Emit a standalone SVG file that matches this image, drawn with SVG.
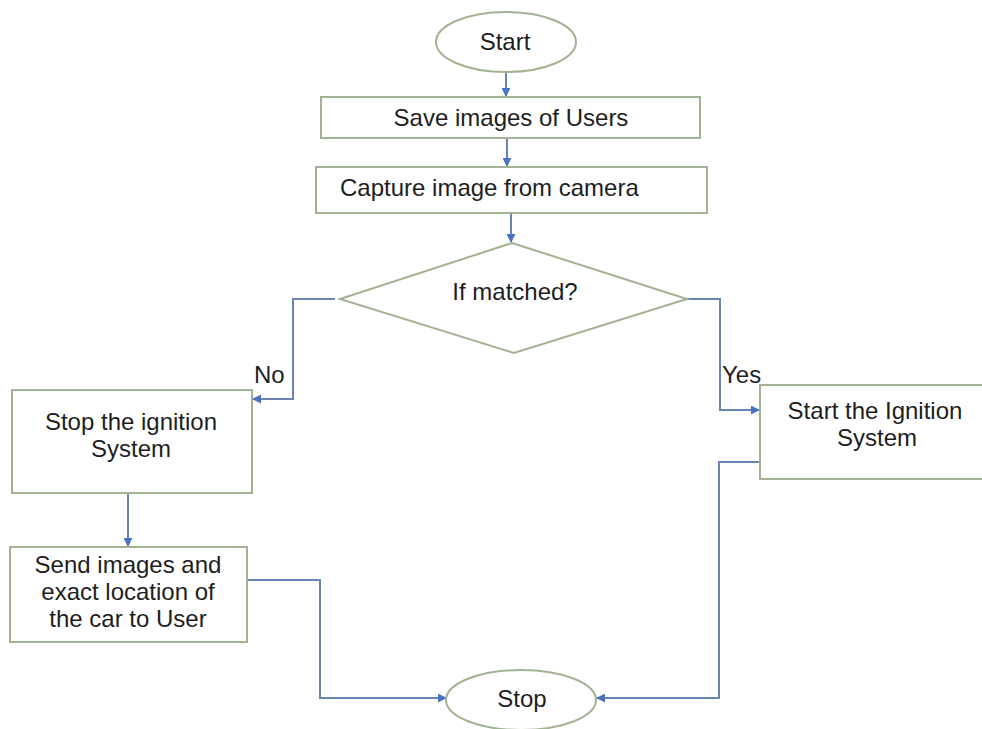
<svg xmlns="http://www.w3.org/2000/svg" width="982" height="729" viewBox="0 0 982 729">
<defs>
<marker id="arr" viewBox="0 0 10 10" refX="9" refY="5" markerWidth="9" markerHeight="9" markerUnits="userSpaceOnUse" orient="auto">
<path d="M0,0 L10,5 L0,10 Z" fill="#4a72c0"/>
</marker>
<style>
.shape{fill:#fff;stroke:#a3b293;stroke-width:2}
.conn{fill:none;stroke:#6a84b4;stroke-width:2;marker-end:url(#arr)}
text{font-family:"Liberation Sans","Open Sans",sans-serif;font-size:24px;fill:#1e1e1e}
.c{text-anchor:middle}
</style>
</defs>
<rect width="982" height="729" fill="#fff"/>
<g id="connectors">
<path class="conn" d="M506,73 L506,96"/>
<path class="conn" d="M507,138 L507,166"/>
<path class="conn" d="M511,213 L511,242"/>
<path class="conn" d="M335,299 L293,299 L293,399 L253,399"/>
<path class="conn" d="M687,299 L720,299 L720,410 L759,410"/>
<path class="conn" d="M128,493 L128,546"/>
<path class="conn" d="M247,580 L320,580 L320,698 L446,698"/>
<path class="conn" d="M760,462 L719,462 L719,698 L597,698"/>
</g>
<g id="start">
<ellipse class="shape" cx="506" cy="42" rx="70" ry="30"/>
<text class="c" x="505" y="50">Start</text>
</g>
<g id="save">
<rect class="shape" x="321" y="97" width="379" height="41"/>
<text class="c" x="511" y="126">Save images of Users</text>
</g>
<g id="capture">
<rect class="shape" x="316" y="167" width="391" height="46"/>
<text x="340" y="196">Capture image from camera</text>
</g>
<g id="decision">
<polygon class="shape" points="512,243 687,299 514,353 340,299"/>
<text class="c" x="515" y="300">If matched?</text>
</g>
<text x="254" y="383">No</text>
<text x="722" y="383">Yes</text>
<g id="stop-ignition">
<rect class="shape" x="12" y="390" width="240" height="103"/>
<text class="c" x="131" y="430">Stop the ignition</text>
<text class="c" x="131" y="457">System</text>
</g>
<g id="start-ignition">
<rect class="shape" x="760" y="385" width="225" height="94"/>
<text class="c" x="875" y="419">Start the Ignition</text>
<text class="c" x="877" y="446">System</text>
</g>
<g id="send">
<rect class="shape" x="10" y="547" width="237" height="95"/>
<text class="c" x="128" y="573">Send images and</text>
<text class="c" x="128" y="600">exact location of</text>
<text class="c" x="128" y="627">the car to User</text>
</g>
<g id="stop">
<ellipse class="shape" cx="521" cy="700" rx="75" ry="30"/>
<text class="c" x="522" y="707">Stop</text>
</g>
</svg>
